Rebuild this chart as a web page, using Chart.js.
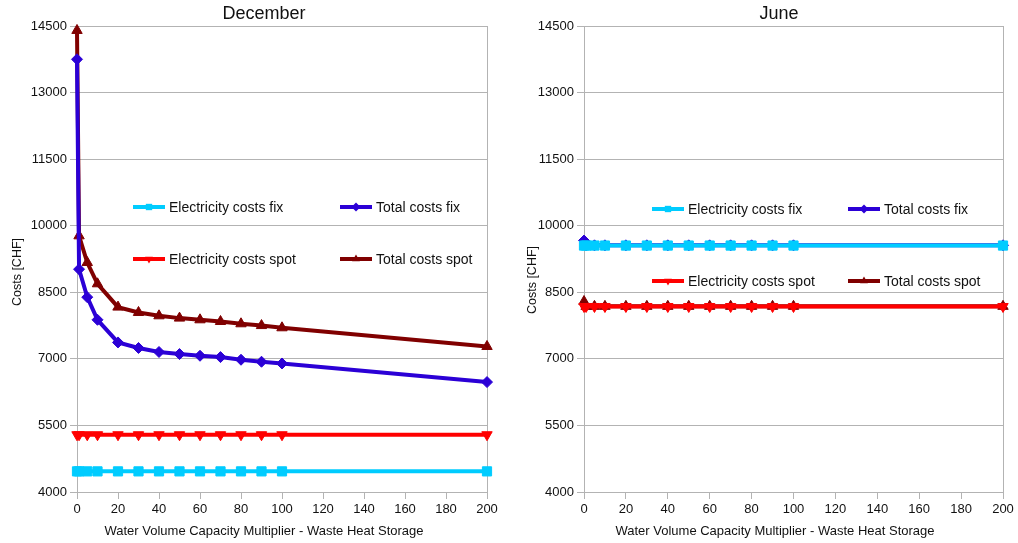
<!DOCTYPE html>
<html><head><meta charset="utf-8">
<script src="https://cdn.jsdelivr.net/npm/chart.js@4/dist/chart.umd.min.js"></script>
<style>
html,body{margin:0;padding:0;background:#fff;overflow:hidden}
#wrap{position:relative;width:1018px;height:543px}
canvas{position:absolute;top:0}
</style></head><body>
<div id="wrap">
<canvas id="dec" width="509" height="543" style="left:0"></canvas>
<canvas id="jun" width="509" height="543" style="left:509px"></canvas>
</div>
<script>
// ---- data ----
const xValues = [0, 1, 5, 10, 20, 30, 40, 50, 60, 70, 80, 90, 100, 200];
const seriesNames = ['Electricity costs fix', 'Total costs fix', 'Electricity costs spot', 'Total costs spot'];

const decElecFix  = [4465, 4465, 4465, 4465, 4465, 4465, 4465, 4465, 4465, 4465, 4465, 4465, 4465, 4465];
const decTotalFix = [13750, 9020, 8390, 7880, 7370, 7245, 7155, 7108, 7070, 7040, 6980, 6935, 6896, 6477];
const decElecSpot = [5290, 5290, 5290, 5290, 5290, 5290, 5290, 5290, 5290, 5290, 5290, 5290, 5290, 5290];
const decTotalSpot= [14400, 9772, 9171, 8691, 8166, 8045, 7970, 7918, 7880, 7842, 7790, 7750, 7700, 7279];

const junElecFix  = [9553, 9553, 9553, 9553, 9553, 9553, 9553, 9553, 9553, 9553, 9553, 9553, 9553, 9553];
const junTotalFix = [9666, 9558, 9558, 9558, 9558, 9558, 9558, 9558, 9558, 9558, 9558, 9558, 9558, 9558];
const junElecSpot = [8180, 8180, 8180, 8180, 8180, 8180, 8180, 8180, 8180, 8180, 8180, 8180, 8180, 8180];
const junTotalSpot= [8292, 8183, 8183, 8183, 8183, 8183, 8183, 8183, 8183, 8183, 8183, 8183, 8183, 8183];

const xTicks = [0, 20, 40, 60, 80, 100, 120, 140, 160, 180, 200];
const yTicks = [4000, 5500, 7000, 8500, 10000, 11500, 13000, 14500];

const titles = ['December', 'June'];
const xAxisTitle = 'Water Volume Capacity Multiplier - Waste Heat Storage';
const yAxisTitle = 'Costs [CHF]';

// ---- styles ----
const FONT = '"Liberation Sans", Arial, sans-serif';
const colors = ['#00ccff', '#2b00d6', '#ff0000', '#800000'];
const pStyles = ['rect', 'rectRot', 'triangle', 'triangle'];
const pRot = [0, 0, 180, 0];
const pRad = [6.5, 5.5, 6, 6];
const GRID = '#b3b3b3';

function pts(vals) { return xValues.map((x, i) => ({ x: x, y: vals[i] })); }

function makeDatasets(arrs) {
  return arrs.map((a, i) => ({
    label: seriesNames[i],
    data: pts(a),
    borderColor: colors[i],
    backgroundColor: colors[i],
    borderWidth: 4,
    pointStyle: pStyles[i],
    pointRotation: pRot[i],
    pointRadius: pRad[i],
    pointBorderWidth: 1,
    pointBackgroundColor: colors[i],
    pointBorderColor: colors[i],
    tension: 0,
    clip: false
  }));
}

function drawMarker(ctx, style, rot, r, x, y) {
  ctx.save();
  ctx.translate(x, y);
  ctx.rotate(rot * Math.PI / 180);
  ctx.beginPath();
  if (style === 'rect') {
    const s = r * Math.SQRT1_2;
    ctx.rect(-s, -s, 2 * s, 2 * s);
  } else if (style === 'rectRot') {
    ctx.moveTo(0, -r); ctx.lineTo(r, 0); ctx.lineTo(0, r); ctx.lineTo(-r, 0); ctx.closePath();
  } else {
    for (let k = 0; k < 3; k++) {
      const a = k * 2 * Math.PI / 3;
      const px = Math.sin(a) * r, py = -Math.cos(a) * r;
      if (k === 0) ctx.moveTo(px, py); else ctx.lineTo(px, py);
    }
    ctx.closePath();
  }
  ctx.fill();
  ctx.restore();
}

const textPlugin = {
  id: 'texts',
  afterDraw(chart, args, o) {
    const ctx = chart.ctx;
    ctx.save();
    ctx.fillStyle = '#111';
    ctx.textAlign = 'center';
    ctx.textBaseline = 'middle';
    ctx.font = '18px ' + FONT;
    ctx.fillText(o.title, o.titleX, 14);
    ctx.font = '13px ' + FONT;
    ctx.fillText(xAxisTitle, o.xTitleX, 531);
    ctx.save();
    ctx.translate(o.yTitleX, o.yTitleY);
    ctx.rotate(-Math.PI / 2);
    ctx.font = '12.5px ' + FONT;
    ctx.fillText(yAxisTitle, 0, 0);
    ctx.restore();
    // legend
    ctx.textAlign = 'left';
    ctx.font = '14px ' + FONT;
    chart.data.datasets.forEach((ds, i) => {
      const lx = o.legX[i % 2], ly = o.legY[Math.floor(i / 2)];
      ctx.strokeStyle = ds.borderColor;
      ctx.lineWidth = 4;
      ctx.beginPath(); ctx.moveTo(lx, ly); ctx.lineTo(lx + 32, ly); ctx.stroke();
      ctx.fillStyle = ds.borderColor;
      drawMarker(ctx, ds.pointStyle, ds.pointRotation, 4.5, lx + 16, ly);
      ctx.fillStyle = '#111';
      ctx.fillText(ds.label, lx + 36, ly + 1);
    });
    ctx.restore();
  }
};

function makeChart(id, arrs, opt) {
  const lastX = xTicks.length - 1;
  return new Chart(document.getElementById(id), {
    type: 'line',
    data: { datasets: makeDatasets(arrs) },
    plugins: [textPlugin],
    options: {
      responsive: false,
      animation: false,
      events: [],
      layout: { padding: { left: 0, right: opt.padRight, top: 26, bottom: 0 } },
      plugins: {
        legend: { display: false },
        title: { display: false },
        tooltip: { enabled: false },
        texts: opt.texts
      },
      scales: {
        x: {
          type: 'linear',
          min: 0, max: 200,
          afterFit(s) { s.height = 51; },
          afterBuildTicks(s) { s.ticks = xTicks.map(v => ({ value: v })); },
          ticks: { font: { size: 13, family: FONT }, color: '#111', padding: 3, maxRotation: 0, autoSkip: false,
                   callback: (v) => String(v) },
          grid: {
            drawOnChartArea: true,
            color: (c) => (c.index === lastX ? GRID : 'rgba(0,0,0,0)'),
            tickColor: GRID,
            tickLength: 7,
            lineWidth: 1
          },
          border: { display: true, color: GRID, width: 1 }
        },
        y: {
          type: 'linear',
          min: 4000, max: 14500,
          afterFit(s) { s.width = opt.yWidth; },
          afterBuildTicks(s) { s.ticks = yTicks.map(v => ({ value: v })); },
          ticks: { font: { size: 13, family: FONT }, color: '#111', padding: 3, autoSkip: false,
                   callback: (v) => String(v) },
          grid: { color: GRID, tickColor: GRID, tickLength: 7, lineWidth: 1 },
          border: { display: true, color: GRID, width: 1 }
        }
      }
    }
  });
}

makeChart('dec', [decElecFix, decTotalFix, decElecSpot, decTotalSpot], {
  padRight: 22, yWidth: 77,
  texts: { title: titles[0], titleX: 264, xTitleX: 264, yTitleX: 18, yTitleY: 272,
           legX: [133, 340], legY: [207, 259] }
});
makeChart('jun', [junElecFix, junTotalFix, junElecSpot, junTotalSpot], {
  padRight: 15, yWidth: 75,
  texts: { title: titles[1], titleX: 270, xTitleX: 266, yTitleX: 24, yTitleY: 280,
           legX: [143, 339], legY: [209, 281] }
});
</script>
</body></html>
